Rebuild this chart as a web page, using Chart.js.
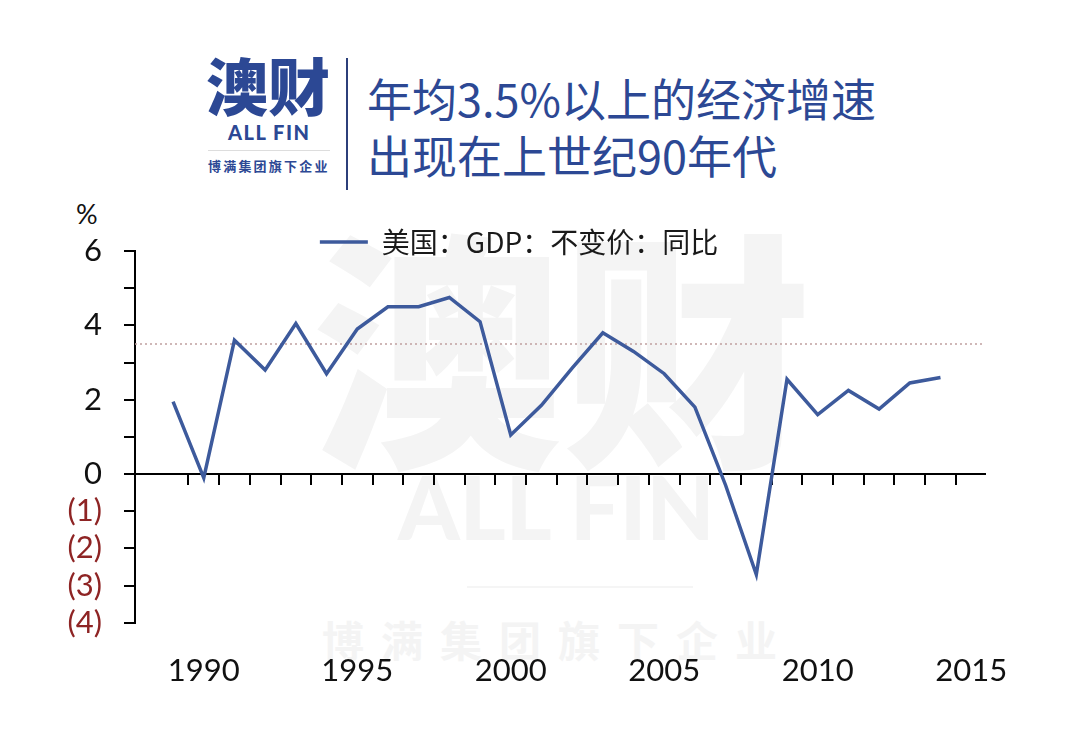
<!DOCTYPE html>
<html>
<head>
<meta charset="utf-8">
<script src="https://cdn.jsdelivr.net/npm/chart.js@4.4.1/dist/chart.umd.min.js"></script>
<style>
  body { margin: 0; background: #fff; }
  #wrap { position: relative; width: 1080px; height: 744px; overflow: hidden; font-family: "Noto Sans CJK SC", sans-serif; }
  .abs { position: absolute; white-space: nowrap; line-height: 1; }
  .wm { color: #f4f4f4; font-weight: 900; }
  .blue { color: #2c4894; }
  canvas { position: absolute; left: 0; top: 0; }
</style>
</head>
<body>
<div id="wrap">
  <!-- watermark -->
  <div class="abs wm" style="left:312px; top:214px; font-size:250px;">澳财</div>
  <div class="abs wm" style="left:398px; top:462px; font-size:88px; font-family:Lato;">ALL FIN</div>
  <div class="abs" style="left:467px; top:586px; width:226px; height:2px; background:#f5f5f5;"></div>
  <div class="abs wm" style="left:322px; top:618px; font-size:42px; letter-spacing:17px; font-weight:700;">博满集团旗下企业</div>

  <!-- logo + title -->
  <div class="abs blue" style="left:206px; top:53px; font-size:62px; font-weight:900;">澳财</div>
  <div class="abs blue" style="left:228px; top:122px; font-size:20px; font-weight:900; font-family:Lato; letter-spacing:1.5px;">ALL FIN</div>
  <div class="abs" style="left:208px; top:150px; width:122px; height:1px; background:#ddd;"></div>
  <div class="abs blue" style="left:208px; top:159px; font-size:13px; font-weight:700; letter-spacing:2.2px;">博满集团旗下企业</div>
  <div class="abs" style="left:346px; top:58px; width:2px; height:132px; background:#2c3f7a;"></div>
  <div class="abs blue" style="left:367px; top:69px; font-size:45px; line-height:57px;">年均3.5%以上的经济增速<br>出现在上世纪90年代</div>

  <div class="abs" style="left:76px; top:200px; font-size:27px; font-family:Lato; color:#111;">%</div>

  <canvas id="gdpChart" width="1080" height="744"></canvas>
</div>
<script>
const years = [1989, 1990, 1991, 1992, 1993, 1994, 1995, 1996, 1997, 1998, 1999, 2000, 2001,
  2002, 2003, 2004, 2005, 2006, 2007, 2008, 2009, 2010, 2011, 2012, 2013, 2014];
const gdpGrowth = [1.95, -0.1, 3.6, 2.8, 4.05, 2.7, 3.9, 4.5, 4.5, 4.75, 4.1, 1.05, 1.85,
  2.85, 3.8, 3.3, 2.7, 1.8, -0.3, -2.7, 2.55, 1.6, 2.25, 1.75, 2.45, 2.6];
const xTickLabels = [1990, 1995, 2000, 2005, 2010, 2015];
const yTickValues = [-4, -3, -2, -1, 0, 1, 2, 3, 4, 5, 6];
const threshold = 3.5;
const seriesName = '美国：GDP：不变价：同比';

const X_MIN = 1987.76;
const X_MAX = 2015.45;

// legend box is kept short so the plot starts right under it; let the text draw past it
const legendUnclip = {
  id: 'legendUnclip',
  afterLayout(chart) {
    const lg = chart.legend;
    if (lg) {
      lg.bottom = lg.top + 40;
      lg.height = 40;
    }
  }
};

// GDP chart
const canvas = document.getElementById('gdpChart');
if (canvas) {
  const gdpData = {
    datasets: [{
      label: seriesName,
      data: years.map((yr, i) => ({ x: yr, y: gdpGrowth[i] })),
      borderColor: '#3d5a9c',
      backgroundColor: '#3d5a9c',
      borderWidth: 3.5,
      pointRadius: 0,
      tension: 0
    }, {
      label: 'threshold',
      data: [{ x: X_MIN, y: threshold }, { x: X_MAX, y: threshold }],
      borderColor: '#c0a0a0',
      borderWidth: 1.5,
      borderDash: [2, 3],
      pointRadius: 0
    }]
  };

  new Chart(canvas, {
    type: 'line',
    data: gdpData,
    plugins: [legendUnclip],
    options: {
      responsive: false,
      animation: false,
      layout: {
        padding: { left: 53, right: 95, top: 228, bottom: 24 }
      },
      plugins: {
        legend: {
          position: 'top',
          maxHeight: 23,
          labels: {
            usePointStyle: true,
            pointStyle: 'line',
            pointStyleWidth: 48,
            padding: 0,
            color: '#1a1a1a',
            font: { family: 'Noto Sans CJK SC', size: 28 },
            filter: item => item.datasetIndex === 0
          }
        },
        tooltip: { enabled: false }
      },
      scales: {
        x: {
          type: 'linear',
          position: 'bottom',
          min: X_MIN,
          max: X_MAX,
          afterBuildTicks: s => { s.ticks = xTickLabels.map(v => ({ value: v })); },
          grid: { display: false, drawTicks: false },
          border: { display: false },
          ticks: {
            autoSkip: false,
            maxRotation: 0,
            padding: 30,
            color: '#111',
            font: { family: 'Lato', size: 31 },
            callback: v => String(v)
          }
        },
        x2: {
          type: 'linear',
          axis: 'x',
          position: { y: 0 },
          min: X_MIN,
          max: X_MAX,
          afterBuildTicks: s => { s.ticks = years.map(v => ({ value: v + 0.5 })); },
          grid: { drawOnChartArea: false, drawTicks: true, tickLength: 10, color: '#000', lineWidth: 2 },
          border: { color: '#000', width: 2 },
          ticks: { display: false }
        },
        y: {
          min: -4,
          max: 6,
          afterBuildTicks: s => { s.ticks = yTickValues.map(v => ({ value: v })); },
          afterFit: s => { s.width = 82; },
          grid: { drawOnChartArea: false, drawTicks: true, tickLength: 11, color: '#000', lineWidth: 2 },
          border: { color: '#000', width: 2 },
          ticks: {
            autoSkip: false,
            padding: 22,
            font: { family: 'Lato', size: 31 },
            color: ctx => ctx.tick.value < 0 ? '#8e2424' : '#111',
            callback: v => v < 0 ? '(' + (-v) + ')' : (v % 2 === 0 ? String(v) : '')
          }
        }
      }
    }
  });
}
</script>
</body>
</html>
